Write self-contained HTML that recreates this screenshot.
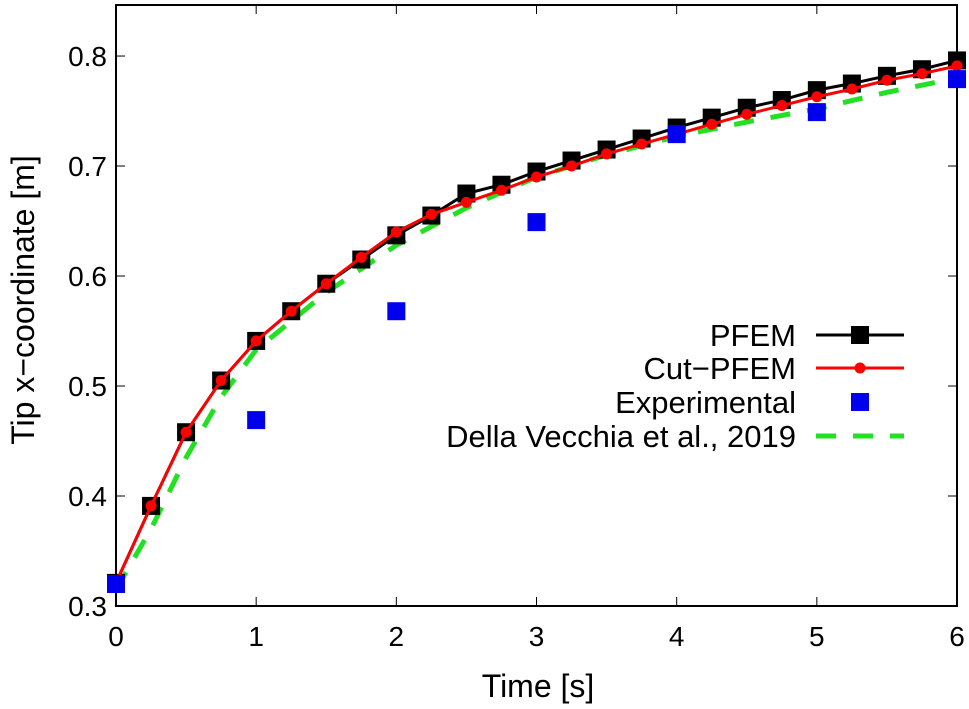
<!DOCTYPE html>
<html><head><meta charset="utf-8"><style>
body{margin:0;background:#fff}
text{font-family:"Liberation Sans",sans-serif;fill:#000}
</style></head><body>
<svg id="chart" width="969" height="704" xmlns="http://www.w3.org/2000/svg"></svg>
<script>
const pfemT=[0,0.25,0.5,0.75,1,1.25,1.5,1.75,2,2.25,2.5,2.75,3,3.25,3.5,3.75,4,4.25,4.5,4.75,5,5.25,5.5,5.75,6];
const pfemY=[0.321,0.391,0.458,0.505,0.541,0.568,0.593,0.615,0.637,0.655,0.675,0.683,0.695,0.705,0.715,0.725,0.735,0.744,0.753,0.760,0.769,0.775,0.782,0.788,0.796];
const cutY=[0.321,0.391,0.458,0.505,0.541,0.568,0.593,0.617,0.640,0.656,0.667,0.678,0.690,0.700,0.711,0.720,0.729,0.738,0.747,0.755,0.763,0.770,0.778,0.784,0.791];
const expT=[0,1,2,3,4,5,6];
const expY=[0.320,0.469,0.568,0.649,0.729,0.749,0.779];
const dvT=[0,0.25,0.5,0.75,1,1.5,2,2.5,3,3.5,4,4.5,5,5.5,6];
const dvY=[0.315,0.37,0.435,0.49,0.533,0.585,0.628,0.662,0.69,0.71,0.727,0.740,0.752,0.767,0.780];
const xTicks=[0,1,2,3,4,5,6];
const yTicks=[0.3,0.4,0.5,0.6,0.7,0.8];
const yTickLabels=["0.3","0.4","0.5","0.6","0.7","0.8"];

const L=116,R=957,T=5,B=606;
const X=v=>L+(v-0)/(6-0)*(R-L);
const Y=v=>B-(v-0.3)/(0.8464-0.3)*(B-T);
const svg=document.getElementById('chart');
const NS='http://www.w3.org/2000/svg';
function mk(tag,attrs,parent){const e=document.createElementNS(NS,tag);for(const k in attrs)e.setAttribute(k,attrs[k]);(parent||svg).appendChild(e);return e;}

const frame=mk('rect',{x:L,y:T,width:R-L,height:B-T,fill:'none',stroke:'#000','stroke-width':2});


xTicks.forEach(t=>{
  const g=mk('line',{x1:X(t),x2:X(t),y1:B,y2:B-9,stroke:'#000','stroke-width':1});
  
  
  mk('line',{x1:X(t),x2:X(t),y1:T,y2:T+9,stroke:'#000','stroke-width':1});
  const tx=mk('text',{x:X(t),y:B+40,'text-anchor':'middle','font-size':28});
  tx.textContent=String(t);
  
  
});
yTicks.forEach((t,i)=>{
  const g=mk('line',{x1:L,x2:L+9,y1:Y(t),y2:Y(t),stroke:'#000','stroke-width':1});
  
  
  mk('line',{x1:R,x2:R-9,y1:Y(t),y2:Y(t),stroke:'#000','stroke-width':1});
  const tx=mk('text',{x:L-9,y:Y(t)+10,'text-anchor':'end','font-size':28});
  tx.textContent=yTickLabels[i];
  
  
});
const xt=mk('text',{x:538,y:697,'text-anchor':'middle','font-size':32});
xt.textContent='Time [s]';


const yt=mk('text',{x:0,y:0,'text-anchor':'middle','font-size':32,transform:`translate(34,300) rotate(-90)`});
yt.textContent='Tip x\u2212coordinate [m]';



const pts=(ts,ys)=>ts.map((t,i)=>X(t)+','+Y(ys[i])).join(' ');
const dv=mk('polyline',{points:pts(dvT,dvY),fill:'none',stroke:'#22e022','stroke-width':5,'stroke-dasharray':'20,17'});


const pl=mk('polyline',{points:pts(pfemT,pfemY),fill:'none',stroke:'#000','stroke-width':3});


pfemT.forEach((t,i)=>{
  const r=mk('rect',{x:X(t)-9,y:Y(pfemY[i])-9,width:18,height:18,fill:'#000'});
  
  
});
const cl=mk('polyline',{points:pts(pfemT,cutY),fill:'none',stroke:'#f00','stroke-width':3});


pfemT.forEach((t,i)=>{
  const c=mk('circle',{cx:X(t),cy:Y(cutY[i]),r:5.5,fill:'#f00'});
  
  
});
expT.forEach((t,i)=>{
  const r=mk('rect',{x:X(t)-9,y:Y(expY[i])-9,width:18,height:18,fill:'#0000ee'});
  
  
});

const legY=[335,368,402,436];
const legN=['PFEM','Cut\u2212PFEM','Experimental','Della Vecchia et al., 2019'];
legN.forEach((n,i)=>{
  const tx=mk('text',{x:796,y:legY[i]+11,'text-anchor':'end','font-size':31});
  tx.textContent=n;
  
  
});
let e;
e=mk('line',{x1:816,x2:904,y1:legY[0],y2:legY[0],stroke:'#000','stroke-width':3});


mk('rect',{x:851,y:legY[0]-9,width:18,height:18,fill:'#000'});
e=mk('line',{x1:816,x2:904,y1:legY[1],y2:legY[1],stroke:'#f00','stroke-width':3});


mk('circle',{cx:860,cy:legY[1],r:5.5,fill:'#f00'});
e=mk('rect',{x:851,y:legY[2]-9,width:18,height:18,fill:'#0000ee'});


e=mk('line',{x1:816,x2:904,y1:legY[3],y2:legY[3],stroke:'#22e022','stroke-width':5,'stroke-dasharray':'20,17'});


</script>
</body></html>
